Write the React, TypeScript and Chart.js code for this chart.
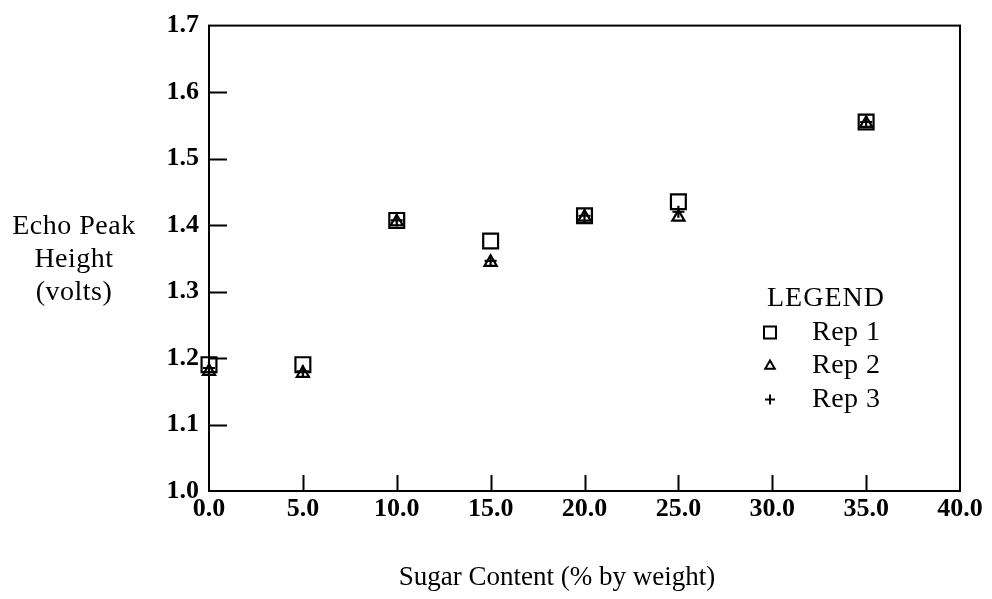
import React, { useEffect, useRef } from 'react';
import { Chart, registerables } from 'chart.js';
import { drawPoint } from 'chart.js/helpers';

Chart.register(...registerables);

const sugarContent = [0, 5, 10, 15, 20, 25, 35];
const rep1 = [1.19, 1.19, 1.407, 1.376, 1.414, 1.435, 1.555];
const rep2 = [1.18, 1.177, 1.405, 1.344, 1.412, 1.412, 1.553];
const rep3 = [1.185, 1.18, 1.407, 1.346, 1.414, 1.42, 1.555];
const seriesLabels = ['Rep 1', 'Rep 2', 'Rep 3'];
const seriesStyles = ['rect', 'triangle', 'cross'];
const yTitleLines = ['Echo Peak', 'Height', '(volts)'];
const xTitle = 'Sugar Content (% by weight)';
const legendTitle = 'LEGEND';

const SERIF = '"Liberation Serif", "Times New Roman", serif';

const framePlugin = {
  id: 'frameAndText',
  afterDraw(chart: any) {
    const { ctx, chartArea, scales } = chart;
    const { left, right, top, bottom } = chartArea;
    const xs = scales.x;
    const ys = scales.y;
    ctx.save();
    ctx.strokeStyle = '#000';
    ctx.fillStyle = '#000';
    ctx.lineWidth = 2;
    ctx.strokeRect(left, top, right - left, bottom - top);
    ctx.beginPath();
    xs.ticks.forEach((t: any) => {
      if (t.value <= xs.min || t.value >= xs.max) return;
      const px = Math.round(xs.getPixelForValue(t.value)) + 0.5;
      ctx.moveTo(px, bottom);
      ctx.lineTo(px, bottom - 16);
    });
    ys.ticks.forEach((t: any) => {
      if (t.value <= ys.min + 1e-9 || t.value >= ys.max - 1e-9) return;
      const py = Math.round(ys.getPixelForValue(t.value)) + 0.5;
      ctx.moveTo(left, py);
      ctx.lineTo(left + 18, py);
    });
    ctx.stroke();

    // Y title (horizontal, three lines)
    ctx.font = `28px ${SERIF}`;
    ctx.textAlign = 'center';
    ctx.textBaseline = 'alphabetic';
    (ctx as any).letterSpacing = '0.5px';
    yTitleLines.forEach((line, i) => {
      ctx.fillText(line, left - 135, top + 208 + i * 33);
    });

    // X title
    ctx.font = `27px ${SERIF}`;
    (ctx as any).letterSpacing = '0px';
    ctx.fillText(xTitle, left + 348, bottom + 94);

    // Legend
    ctx.font = `28px ${SERIF}`;
    (ctx as any).letterSpacing = '1px';
    ctx.fillText(legendTitle, left + 617, top + 280);
    (ctx as any).letterSpacing = '0.5px';
    chart.data.datasets.forEach((ds: any, i: number) => {
      const baseY = top + 314 + i * 33.5;
      ctx.textAlign = 'left';
      ctx.fillText(ds.label, left + 603, baseY);
      ctx.fillStyle = 'rgba(0,0,0,0)';
      ctx.strokeStyle = '#000';
      ctx.lineWidth = 2;
      const r = ds.pointStyle === 'rect' ? 8.5 : ds.pointStyle === 'triangle' ? 5.5 : 5;
      drawPoint(ctx, { pointStyle: ds.pointStyle, radius: r, rotation: 0, borderWidth: 2 } as any, left + 561, baseY - 7);
      ctx.fillStyle = '#000';
    });
    ctx.restore();
  },
};

export default function App() {
  const canvasRef = useRef<HTMLCanvasElement | null>(null);

  useEffect(() => {
    if (!canvasRef.current) return;
    const series = [rep1, rep2, rep3];
    const radii = [10.5, 7, 6];
    const chart = new Chart(canvasRef.current, {
      type: 'scatter',
      data: {
        datasets: series.map((vals, i) => ({
          label: seriesLabels[i],
          data: sugarContent.map((x, j) => ({ x, y: vals[j] })),
          pointStyle: seriesStyles[i] as any,
          pointRadius: radii[i],
          pointHoverRadius: radii[i],
          pointBorderWidth: 2.2,
          pointBackgroundColor: 'rgba(0,0,0,0)',
          pointBorderColor: '#000',
          showLine: false,
          clip: false as any,
        })),
      },
      plugins: [framePlugin],
      options: {
        animation: false,
        responsive: true,
        maintainAspectRatio: false,
        layout: { padding: { left: 0, top: 21, right: 32, bottom: 0 } },
        plugins: {
          legend: { display: false },
          tooltip: { enabled: false },
          title: { display: false },
        },
        scales: {
          x: {
            type: 'linear',
            min: 0,
            max: 40,
            ticks: {
              stepSize: 5,
              color: '#000',
              padding: 3,
              font: { family: SERIF, size: 26, weight: 'bold' },
              callback: (v: any) => Number(v).toFixed(1),
              maxRotation: 0,
            },
            grid: { display: false, drawTicks: false },
            border: { display: false },
            afterFit: (s: any) => { s.height = 108; },
          },
          y: {
            type: 'linear',
            min: 1.0,
            max: 1.7,
            ticks: {
              stepSize: 0.1,
              color: '#000',
              padding: 10,
              font: { family: SERIF, size: 26, weight: 'bold' },
              callback: (v: any) => Number(v).toFixed(1),
            },
            grid: { display: false, drawTicks: false },
            border: { display: false },
            afterFit: (s: any) => { s.width = 209; },
          },
        },
      },
    });
    return () => chart.destroy();
  }, []);

  return (
    <div style={{ position: 'absolute', left: 0, top: 0, width: 992, height: 599, background: '#fff' }}>
      <canvas ref={canvasRef} />
    </div>
  );
}
